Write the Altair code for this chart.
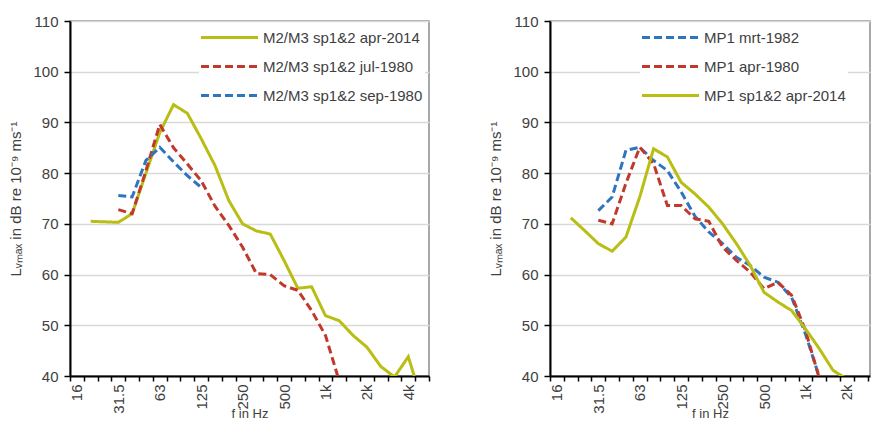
import altair as alt
import pandas as pd

FONT = "Liberation Sans"
TXT = "#404040"
FRAME = "#8c8c8c"

bands = ["16", "20", "25", "31.5", "40", "50", "63", "80", "100", "125", "160", "200",
         "250", "315", "400", "500", "630", "800", "1k", "1.25k", "1.6k", "2k", "2.5k",
         "3.15k", "4k", "5k"]

left_names = ["M2/M3 sp1&2 apr-2014", "M2/M3 sp1&2 jul-1980", "M2/M3 sp1&2 sep-1980"]
m23_apr2014 = [None, 70.5, 70.4, 70.3, 72.0, 80.0, 88.0, 93.5, 91.8, 86.8, 81.5, 74.6,
               70.0, 68.6, 68.0, 62.8, 57.3, 57.6, 51.9, 50.9, 48.0, 45.7, 41.9, 39.8,
               43.8, 35.0]
m23_jul1980 = [None, None, None, 72.8, 72.0, 80.5, 89.6, 85.0, 81.8, 78.5, 73.5, 69.7,
               65.4, 60.2, 60.0, 57.8, 56.9, 52.9, 48.0, 39.0]
m23_sep1980 = [None, None, None, 75.6, 75.3, 82.5, 85.1, 82.2, 79.5, 77.2]
left_colors = ["#B8BE14", "#C0392B", "#2E75C0"]
left_dashes = [[1, 0], [8, 4], [8, 4]]

right_names = ["MP1 mrt-1982", "MP1 apr-1980", "MP1 sp1&2 apr-2014"]
mp1_mrt1982 = [None, None, None, 72.6, 75.3, 84.5, 85.1, 82.5, 80.5, 76.3, 71.5, 68.4,
               66.1, 63.4, 61.8, 59.5, 58.5, 55.5, 48.3, 39.8]
mp1_apr1980 = [None, None, None, 70.7, 70.0, 78.0, 85.1, 81.9, 73.6, 73.6, 71.0, 70.5,
               65.4, 62.8, 60.5, 57.2, 58.5, 55.9, 49.0, 39.6]
mp1_apr2014 = [None, 71.2, 68.7, 66.1, 64.6, 67.4, 75.3, 84.8, 83.2, 78.2, 75.9, 73.3,
               70.0, 66.1, 61.8, 56.5, 54.6, 52.9, 49.3, 45.4, 41.1, 39.4]
right_colors = ["#2E75C0", "#C0392B", "#B8BE14"]
right_dashes = [[8, 4], [8, 4], [1, 0]]

y_ticks = [40, 50, 60, 70, 80, 90, 100, 110]
y_title = "Lᵥₘₐₓ in dB re 10⁻⁹ ms⁻¹"
x_title = "f in Hz"


def to_long(names, series):
    rows = []
    for name, vals in zip(names, series):
        for i, v in enumerate(vals):
            if v is not None:
                rows.append({"idx": i, "band": bands[i], "series": name, "L": v})
    return pd.DataFrame(rows)


label_arr = "[" + ",".join("'%s'" % b for b in bands) + "]"


def panel(df, names, colors, dashes, width, xmax, legend_x):
    n_vals = int(round((xmax + 0.5) * 2))
    x_vals = [k * 0.5 - 0.5 for k in range(n_vals + 1) if k * 0.5 - 0.5 <= xmax]
    xscale = alt.Scale(domain=[-0.5, xmax], nice=False, zero=False)
    yscale = alt.Scale(domain=[40, 110], nice=False, zero=False)
    xaxis = alt.Axis(
        values=x_vals,
        labelExpr=f"datum.value % 3 === 0 ? {label_arr}[datum.value] : ''",
        labelAngle=270, labelFontSize=15, labelFont=FONT, labelColor=TXT,
        labelPadding=3, labelOverlap=False, labelFlush=False, labelBound=False,
        tickSize=5, tickColor="black", tickWidth=1.5,
        tickOpacity={"condition": {"test": "datum.value % 1 === 0", "value": 0}, "value": 1},
        domainColor="black", domainWidth=2, grid=False,
        title=x_title, titleFontSize=13, titleFont=FONT, titleColor=TXT,
        titleFontWeight="normal", titleBaseline="alphabetic", titleY=41.5,
    )
    yaxis = alt.Axis(
        values=y_ticks, labelFontSize=15, labelFont=FONT, labelColor=TXT,
        labelPadding=6, tickSize=6, tickColor="black", tickWidth=1.5,
        domainColor="black", domainWidth=2,
        grid=True, gridColor="#d9d9d9", gridWidth=1.5,
        title=y_title, titleFontSize=15, titleFont=FONT, titleColor=TXT,
        titleFontWeight="normal", titlePadding=9,
    )
    leg = alt.Legend(
        title=None, orient="none", legendX=legend_x, legendY=7,
        symbolType="M-5.7,0H5.7", symbolSize=100, symbolStrokeWidth=3,
        symbolOffset=21, labelOffset=26, rowPadding=13, padding=2,
        fillColor="white", labelFontSize=15, labelFont=FONT,
        labelColor=TXT, labelAlign="left",
    )
    return alt.Chart(df).mark_line(strokeWidth=3, clip=True).encode(
        x=alt.X("idx:Q", scale=xscale, axis=xaxis),
        y=alt.Y("L:Q", scale=yscale, axis=yaxis),
        color=alt.Color("series:N", scale=alt.Scale(domain=names, range=colors), legend=leg),
        strokeDash=alt.StrokeDash("series:N", scale=alt.Scale(domain=names, range=dashes),
                                  legend=leg),
        order=alt.Order("idx:Q"),
    ).properties(width=width, height=355)


left_df = to_long(left_names, [m23_apr2014, m23_jul1980, m23_sep1980])
right_df = to_long(right_names, [mp1_mrt1982, mp1_apr1980, mp1_apr2014])

bw = 359 / 26
left = panel(left_df, left_names, left_colors, left_dashes, 359, 25.5, 129)
right = panel(right_df, right_names, right_colors, right_dashes, 320, -0.5 + 320 / bw, 90)

chart = alt.hconcat(left, right, spacing=50).resolve_scale(
    color="independent", strokeDash="independent"
).properties(
    padding={"left": 0, "top": 5, "right": 0, "bottom": 0}
).configure(font=FONT).configure_view(stroke=FRAME, strokeWidth=1.5)

chart.save("out.html", embed_options={"renderer": "svg", "actions": False})
